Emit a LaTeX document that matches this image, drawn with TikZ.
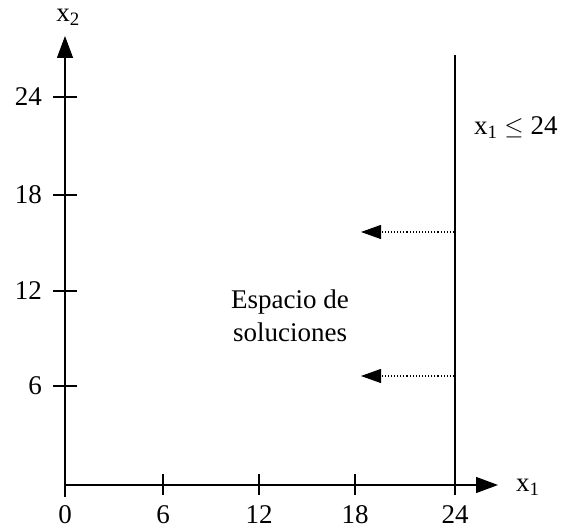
\documentclass[tikz,border=0pt]{standalone}
\usepackage{fontspec}
\setmainfont{Liberation Serif}
\usetikzlibrary{arrows.meta}
\begin{document}
\begin{tikzpicture}[x=1pt,y=1pt,
  axis/.style={line width=1.3pt,-{Triangle[length=22pt,width=16pt]}},
  tickline/.style={line width=1.1pt},
  lbl/.style={font=\fontsize{27}{33}\selectfont,inner sep=0pt},
  darrow/.style={line width=1.1pt,dotted,-{Triangle[length=20pt,width=14pt]}}]
\useasboundingbox (0,0) rectangle (561,529);
\coordinate (O) at (65,44);
\coordinate (O2) at (65,32);
\coordinate (xend) at (498,44);
\coordinate (yend) at (65,493);
\draw[axis] (O2) -- (yend);
\draw[axis] (O) -- (xend);
% x ticks
\foreach \x/\n in {163/6,259/12,355/18,455/24}{
  \draw[tickline] (\x,34) -- (\x,55);
}
\foreach \x/\n in {65/0,163/6,259/12,355/18,455/24}{
  \node[lbl] (xl\n) at (\x,14) {\n};
}
% y ticks
\foreach \y/\n in {143/6,238/12,334/18,432/24}{
  \draw[tickline] (53,\y) -- (77,\y);
  \node[lbl,anchor=east] (yl\n) at (42,\y) {\n};
}
\node[lbl] (x2) at (68,512) {x\textsubscript{2}};
\node[lbl,anchor=west] (x1) at (516,42) {x\textsubscript{1}};
% constraint line
\coordinate (ctop) at (455,474);
\coordinate (cbot) at (455,44);
\draw[line width=1.4pt] (cbot) -- (ctop);
\node[lbl,anchor=west] (clbl) at (474,401) {x\textsubscript{1} $\leq$ 24};
% arrows
\coordinate (a1s) at (454,297);
\coordinate (a1e) at (361,297);
\coordinate (a2s) at (454,153);
\coordinate (a2e) at (361,153);
\draw[darrow] (a1s) -- (a1e);
\draw[darrow] (a2s) -- (a2e);
\node[lbl,align=center] (esp) at (290,213) {Espacio de\\soluciones};
\end{tikzpicture}
\end{document}
